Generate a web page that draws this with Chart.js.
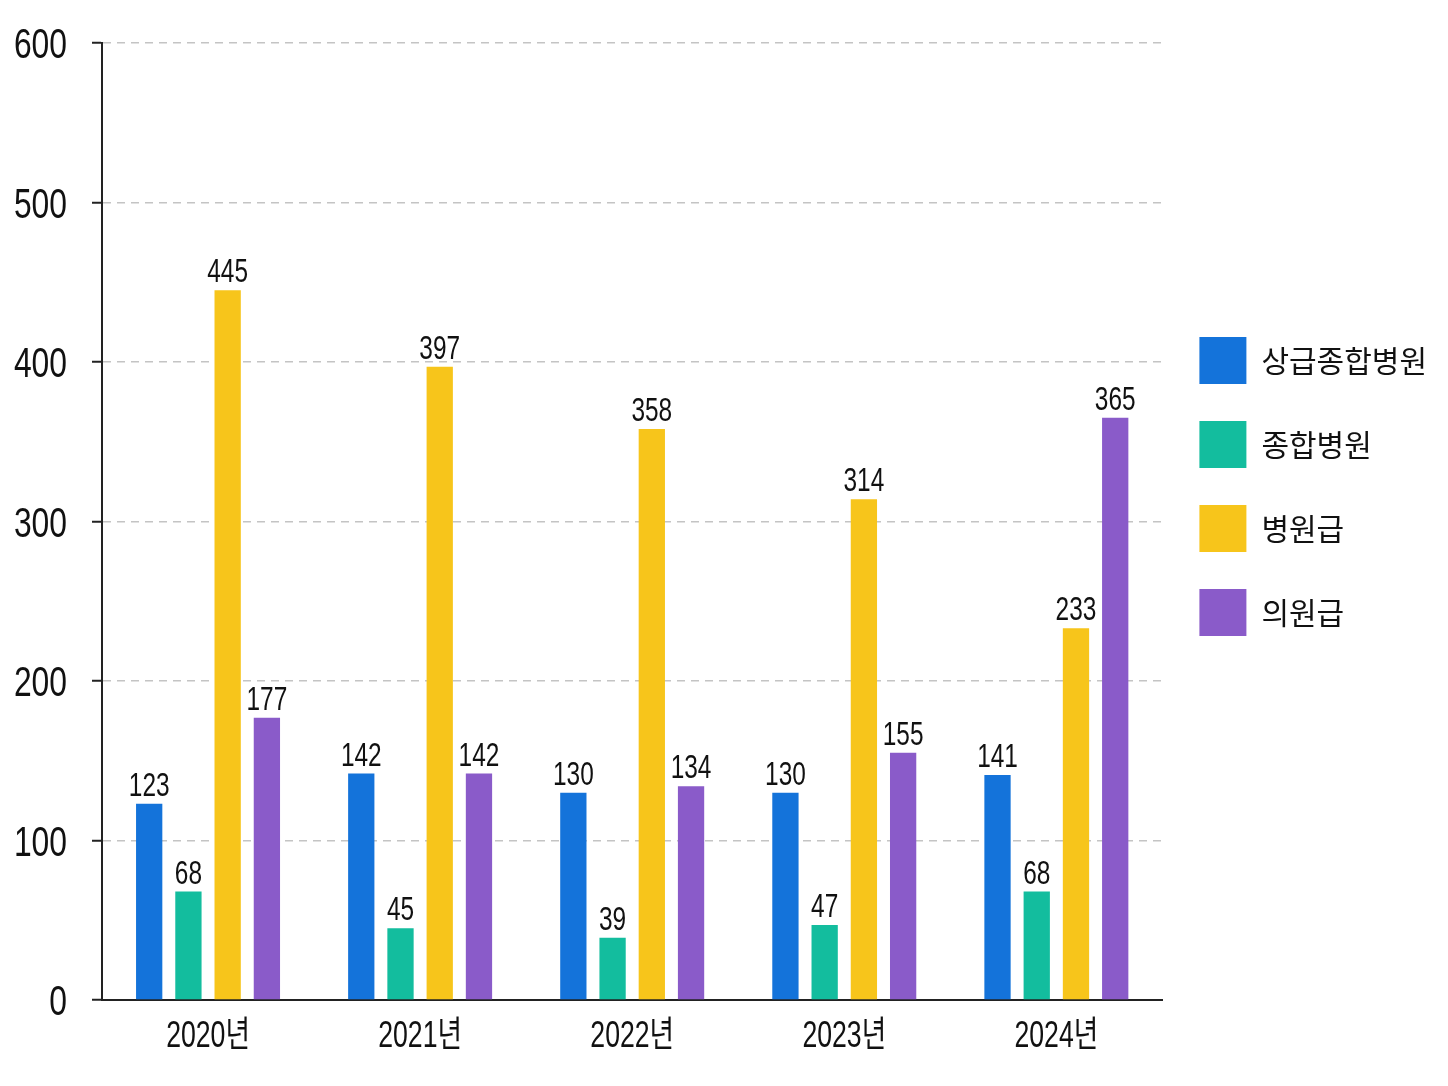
<!DOCTYPE html>
<html lang="ko">
<head>
<meta charset="utf-8">
<script src="https://cdn.jsdelivr.net/npm/chart.js@4"></script>
<style>
  html, body { margin: 0; padding: 0; background: #fff; }
  #wrap { width: 1448px; height: 1086px; }
</style>
</head>
<body>
<div id="wrap"><canvas id="chart" width="1448" height="1086"></canvas></div>
<script>
const YEARS = ['2020년', '2021년', '2022년', '2023년', '2024년'];
const SERIES = ['상급종합병원', '종합병원', '병원급', '의원급'];
const SANGGEUP = [123, 142, 130, 130, 141];
const JONGHAP = [68, 45, 39, 47, 68];
const BYEONGWON = [445, 397, 358, 314, 233];
const UIWON = [177, 142, 134, 155, 365];
const COLORS = ['#1473da', '#13bd9e', '#f7c51b', '#8a5bc9'];

const FONT = "'Liberation Sans', 'Noto Sans CJK KR', sans-serif";
const KFONT = "'Noto Sans CJK KR', 'Noto Sans', sans-serif";
const SQUEEZE = 0.74;  // 좁은 글꼴 흉내

function narrow(ctx, text, x, y, align) {
    ctx.save();
    ctx.translate(x, y);
    ctx.scale(SQUEEZE, 1);
    ctx.textAlign = align;
    ctx.fillText(text, 0, 0);
    ctx.restore();
}

// 축 눈금 글자와 막대 위 값을 좁은 글씨로 그림
const narrowLabels = {
    id: 'narrowLabels',
    afterDraw(chart) {
        const ctx = chart.ctx;
        const xs = chart.scales.x;
        const ys = chart.scales.y;
        ctx.save();
        ctx.fillStyle = '#111';
        ctx.textBaseline = 'alphabetic';

        ctx.font = '43px ' + FONT;
        ys.ticks.forEach(t => {
            narrow(ctx, String(t.value), ys.right - 35, ys.getPixelForValue(t.value) + 15, 'right');
        });

        ctx.font = '36px ' + FONT;
        chart.data.labels.forEach((lab, i) => {
            narrow(ctx, lab, xs.getPixelForTick(i), xs.top + 47, 'center');
        });

        ctx.font = '33px ' + FONT;
        chart.data.datasets.forEach((ds, i) => {
            chart.getDatasetMeta(i).data.forEach((bar, j) => {
                narrow(ctx, String(ds.data[j]), bar.x, bar.y - 8, 'center');
            });
        });
        ctx.restore();
    }
};

const ctx = document.getElementById('chart').getContext('2d');
new Chart(ctx, {
    type: 'bar',
    data: {
        labels: YEARS,
        datasets: [SANGGEUP, JONGHAP, BYEONGWON, UIWON].map((d, i) => ({
            label: SERIES[i],
            data: d,
            backgroundColor: COLORS[i],
            borderWidth: 0,
            barPercentage: 0.67,
            categoryPercentage: 0.74
        }))
    },
    options: {
        responsive: false,
        animation: false,
        devicePixelRatio: 1,
        layout: { padding: { top: 43, right: 11, bottom: 0, left: 0 } },
        plugins: {
            tooltip: { enabled: false },
            legend: {
                position: 'right',
                align: 'start',
                title: {
                    display: true,
                    text: ' ',
                    font: { size: 10 },
                    padding: { top: 245, bottom: 0 }
                },
                labels: {
                    boxWidth: 47,
                    boxHeight: 47,
                    padding: 37,
                    color: '#111',
                    font: { family: KFONT, size: 30 }
                }
            }
        },
        scales: {
            x: {
                afterFit: (scale) => { scale.height = 86; },
                grid: { display: false },
                border: { color: '#222', width: 2 },
                ticks: { display: false }
            },
            y: {
                min: 0,
                max: 600,
                afterFit: (scale) => { scale.width = 102; },
                ticks: { stepSize: 100, display: false },
                grid: {
                    color: '#c4c4c4',
                    lineWidth: 1.5,
                    tickLength: 10,
                    tickColor: '#222',
                    tickWidth: 2
                },
                border: { color: '#222', width: 2, dash: [8, 6] }
            }
        }
    },
    plugins: [narrowLabels]
});
</script>
</body>
</html>
